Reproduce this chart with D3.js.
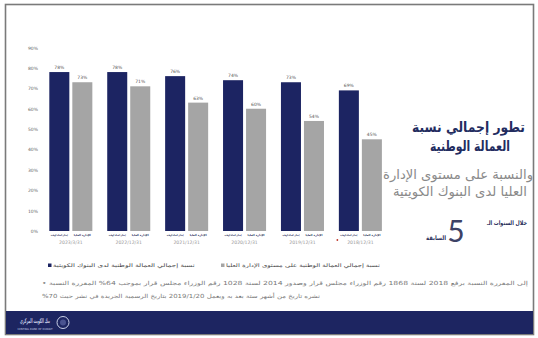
<!DOCTYPE html>
<html><head><meta charset="utf-8">
<script src="https://cdn.jsdelivr.net/npm/d3@7/dist/d3.min.js"></script>
<style>
html,body{margin:0;padding:0;background:#fff;}
svg{display:block;font-family:"DejaVu Sans",sans-serif;}
</style></head>
<body><svg id="c" width="538" height="338"></svg>
<script>
const categories = ["2023/3/31","2022/12/31","2021/12/31","2020/12/31","2019/12/31","2018/12/31"];
const seriesNames = ["نسبة إجمالي العمالة الوطنية لدى البنوك الكويتية","نسبة إجمالي العمالة الوطنية على مستوى الإدارة العليا"];
const barLabels = ["إجمالي العمالة الوطنية","الإدارة العليا"];
const totalValues = [78,78,76,74,73,69];
const mgmtValues = [73,71,63,60,54,45];
const yTicks = [0,10,20,30,40,50,60,70,80,90];
const colors = ["#1c2462","#a5a5a5"];
const titleLines = ["تطور إجمالي نسبة","العمالة الوطنية"];
const subtitleLines = ["والنسبة على مستوى الإدارة","العليا لدى البنوك الكويتية"];
const footLines = ["• النسبة المقررة %64 بموجب قرار مجلس الوزراء رقم 1028 لسنة 2014 وصدور قرار مجلس الوزراء رقم 1868 لسنة 2018 برفع النسبة المقررة إلى",
  "%70 حيث نشر في الجريدة الرسمية بتاريخ 2019/1/20 ويعمل به بعد ستة أشهر من تاريخ نشره"];

const svg = d3.select("#c");

// place a text starting at x with a given width, scaled horizontally to fit
function fitText(parent, text, x, yy, width, size, fill, weight){
  const grp = parent.append("g").attr("transform",`translate(${x},${yy})`);
  const inner = grp.append("g");
  const t = inner.append("text").attr("x",0).attr("y",0).attr("font-size",size)
    .attr("fill",fill).attr("font-weight",weight||"normal").text(text);
  const w = t.node().getComputedTextLength();
  inner.attr("transform",`scale(${width/w},1)`);
  return grp;
}

// frame
svg.append("rect").attr("x",0).attr("y",0).attr("width",538).attr("height",338).attr("fill","#fff");
svg.append("rect").attr("x",5.5).attr("y",4.5).attr("width",528).attr("height",330)
  .attr("fill","none").attr("stroke","#7a7a7a").attr("stroke-width",1.6);
// footer band
svg.append("rect").attr("x",6).attr("y",311).attr("width",527).attr("height",23).attr("fill","#1d2561");
fitText(svg,"بنك الكويت المركزي",20,323,30,6.5,"#c9cfe6","bold");
svg.append("text").attr("x",35).attr("y",330).attr("text-anchor","middle").attr("fill","#c9cfe6")
  .attr("font-size",2.6).text("CENTRAL BANK OF KUWAIT");
svg.append("circle").attr("cx",63).attr("cy",322.5).attr("r",6).attr("fill","none").attr("stroke","#c9cfe6").attr("stroke-width",1);
svg.append("circle").attr("cx",63).attr("cy",322.5).attr("r",3).attr("fill","#4a5390");

const y = d3.scaleLinear().domain([0,90]).range([231,47.6]);
const x0 = d3.scaleBand().domain(categories).range([41.9,389.3]).paddingInner(0.257).paddingOuter(0.128);
const x1 = d3.scaleBand().domain([0,1]).range([0,x0.bandwidth()]).paddingInner(0.13);

const yAxis = svg.append("g").attr("transform","translate(40,0)")
  .call(d3.axisLeft(y).tickValues(yTicks).tickFormat(d=>d+"%").tickSize(0).tickPadding(2));
yAxis.select(".domain").remove();
yAxis.selectAll("text").attr("font-size",4.5).attr("fill","#666").attr("font-family","DejaVu Sans");

const series = [totalValues, mgmtValues];
const g = svg.append("g");
categories.forEach((c,i)=>{
  series.forEach((vals,s)=>{
    const bx = x0(c)+x1(s), bw = x1.bandwidth();
    g.append("rect").attr("x",bx).attr("y",y(vals[i])).attr("width",bw).attr("height",y(0)-y(vals[i])).attr("fill",colors[s]);
    g.append("text").attr("x",bx+bw/2).attr("y",y(vals[i])-3).attr("text-anchor","middle")
      .attr("font-size",4.5).attr("fill","#555").text(vals[i]+"%");
    fitText(g, barLabels[s], bx+1.5, 236, bw-3, 2.8, "#2a2f5a", "bold");
  });
  g.append("text").attr("x",x0(c)+x0.bandwidth()/2).attr("y",243.5).attr("text-anchor","middle")
    .attr("font-size",4.6).attr("fill","#999").text(c);
});
// small red mark at last group
g.append("circle").attr("cx",x0(categories[5])-1.5).attr("cy",240).attr("r",0.9).attr("fill","#c0392b");

// legend
const leg = svg.append("g");
leg.append("rect").attr("x",48).attr("y",263.5).attr("width",3.5).attr("height",3.5).attr("fill",colors[0]);
fitText(leg, seriesNames[0], 53, 267, 142, 5, "#444");
leg.append("rect").attr("x",221).attr("y",263.5).attr("width",3.5).attr("height",3.5).attr("fill",colors[1]);
fitText(leg, seriesNames[1], 226, 267, 154, 5, "#444");

// footnote: words laid out left to right, as in the source picture
function wordLine(text, x, yy, width, size, color){
  const grp = svg.append("g");
  const inner = grp.append("g");
  let cx = 0;
  const space = size*0.32;
  text.split(" ").forEach(w=>{
    const t = inner.append("text").attr("x",cx).attr("y",0).attr("font-size",size).attr("fill",color).text(w);
    cx += t.node().getComputedTextLength() + space;
  });
  const total = cx - space;
  inner.attr("transform",`scale(${width/total},1)`);
  grp.attr("transform",`translate(${x},${yy})`);
}
wordLine(footLines[0], 42, 285, 486, 5.6, "#777");
wordLine(footLines[1], 42, 297.5, 278, 5.6, "#777");

// title block
const tPos = [[412,132,113],[430,151,80]];
titleLines.forEach((t,i)=> fitText(svg, t, tPos[i][0], tPos[i][1], tPos[i][2], 14, "#232c5f", "bold"));
const sPos = [[383,179,150],[393,196,134]];
subtitleLines.forEach((t,i)=> fitText(svg, t, sPos[i][0], sPos[i][1], sPos[i][2], 12.8, "#8a8a8a"));
fitText(svg, "خلال السنوات الـ", 487, 225, 40, 6.3, "#2a2f5a", "bold");
svg.append("text").attr("x",456).attr("y",242).attr("text-anchor","middle")
  .attr("font-size",30).attr("fill","#3d4266").attr("font-family","Lato").text("5");
fitText(svg, "السابقة", 426, 240, 20, 6.3, "#2a2f5a", "bold");
</script></body></html>
